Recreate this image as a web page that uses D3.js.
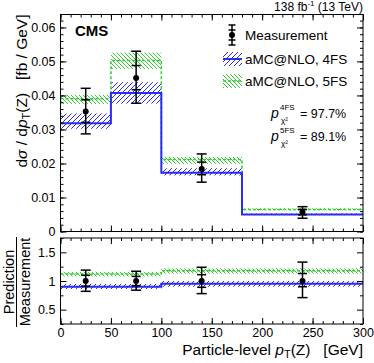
<!DOCTYPE html>
<html>
<head>
<meta charset="utf-8">
<script src="https://cdnjs.cloudflare.com/ajax/libs/d3/7.8.5/d3.min.js"></script>
<style>
  body { margin: 0; background: #fff; }
  svg { font-family: "Liberation Sans", Arial, sans-serif; }
  .tick text { font-size: 12.5px; fill: #000; }
</style>
</head>
<body>
<div id="chart"></div>
<script>
// bins of pT(Z) in GeV
var binEdges = [0, 50, 100, 180, 300];
var binCenters = [25, 75, 140, 240];

// measurement, fb/GeV
var meas = [0.0353, 0.0451, 0.0184, 0.0057];
var measStatUp = [0.0387, 0.0488, 0.0204, 0.0065];
var measStatDn = [0.0321, 0.0417, 0.0167, 0.0049];
var measTotUp = [0.0421, 0.0530, 0.0228, 0.0073];
var measTotDn = [0.0287, 0.0377, 0.0145, 0.0039];

// aMC@NLO 4FS
var pred4 = [0.0318, 0.0407, 0.0173, 0.0050];
var pred4Up = [0.0347, 0.0439, 0.0186, 0.0053];
var pred4Dn = [0.0302, 0.0376, 0.0165, 0.0048];

// aMC@NLO 5FS
var pred5 = [0.0390, 0.0503, 0.0212, 0.0065];
var pred5Up = [0.0402, 0.0526, 0.0219, 0.0068];
var pred5Dn = [0.0375, 0.0478, 0.0199, 0.0062];

// ratio panel (prediction / measurement)
var ratioMeas = [1, 1, 1, 1];
var ratioStatUp = [1.10, 1.08, 1.11, 1.13];
var ratioStatDn = [0.91, 0.92, 0.89, 0.90];
var ratioTotUp = [1.19, 1.17, 1.24, 1.33];
var ratioTotDn = [0.82, 0.84, 0.78, 0.71];
var ratio4 = [0.90, 0.90, 0.95, 0.95];
var ratio4Up = [0.95, 0.95, 1.00, 1.00];
var ratio4Dn = [0.86, 0.86, 0.90, 0.90];
var ratio5 = [1.12, 1.12, 1.18, 1.18];
var ratio5Up = [1.16, 1.16, 1.22, 1.22];
var ratio5Dn = [1.08, 1.08, 1.13, 1.13];

var yTicksTop = [0, 0.01, 0.02, 0.03, 0.04, 0.05, 0.06];
var yTicksRatio = [0.5, 1, 1.5];
var xTicks = [0, 50, 100, 150, 200, 250, 300];

var blue = "#2b2bf5", green = "#33cc33";

var W = 374, H = 363;
var svg = d3.select("#chart").append("svg")
    .attr("width", W).attr("height", H);

// hatch patterns
var defs = svg.append("defs");
defs.append("pattern").attr("id", "hatch4")
    .attr("patternUnits", "userSpaceOnUse")
    .attr("width", 5).attr("height", 5)
    .append("path")
    .attr("d", "M-1,1 L1,-1 M0,5 L5,0 M4,6 L6,4")
    .attr("stroke", blue).attr("stroke-width", 1);
defs.append("pattern").attr("id", "hatch5")
    .attr("patternUnits", "userSpaceOnUse")
    .attr("width", 4).attr("height", 4)
    .append("path")
    .attr("d", "M0,0 L4,4 M-1,3 L1,5 M3,-1 L5,1")
    .attr("stroke", green).attr("stroke-width", 1);

// scales
var x = d3.scaleLinear().domain([0, 300]).range([60.5, 363]);
var yTop = d3.scaleLinear().domain([0, 0.0638]).range([231.5, 14.5]);
var yRat = d3.scaleLinear().domain([0.25, 1.75]).range([324, 238]);

function stepPath(vals, ys) {
    var d = "";
    vals.forEach(function(v, i) {
        d += (i == 0 ? "M" : "L") + x(binEdges[i]) + "," + ys(v);
        d += "L" + x(binEdges[i + 1]) + "," + ys(v);
    });
    return d;
}

function drawPanel(g, ys, up5, dn5, c5, up4, dn4, c4, m, sUp, sDn, tUp, tDn) {
    var idx = d3.range(binCenters.length);
    // bands
    g.selectAll(".b5").data(idx).enter().append("rect")
        .attr("x", function(i) { return x(binEdges[i]); })
        .attr("width", function(i) { return x(binEdges[i + 1]) - x(binEdges[i]); })
        .attr("y", function(i) { return ys(up5[i]); })
        .attr("height", function(i) { return ys(dn5[i]) - ys(up5[i]); })
        .attr("fill", "url(#hatch5)");
    g.selectAll(".b4").data(idx).enter().append("rect")
        .attr("x", function(i) { return x(binEdges[i]); })
        .attr("width", function(i) { return x(binEdges[i + 1]) - x(binEdges[i]); })
        .attr("y", function(i) { return ys(up4[i]); })
        .attr("height", function(i) { return ys(dn4[i]) - ys(up4[i]); })
        .attr("fill", "url(#hatch4)");
    // lines
    g.append("path").attr("d", stepPath(c5, ys))
        .attr("fill", "none").attr("stroke", green)
        .attr("stroke-width", 1.5).attr("stroke-dasharray", "3,2");
    g.append("path").attr("d", stepPath(c4, ys))
        .attr("fill", "none").attr("stroke", blue).attr("stroke-width", 2);
    // measurement
    var pts = g.selectAll(".m").data(idx).enter().append("g");
    pts.append("line")
        .attr("x1", function(i) { return x(binCenters[i]); })
        .attr("x2", function(i) { return x(binCenters[i]); })
        .attr("y1", function(i) { return ys(tUp[i]); })
        .attr("y2", function(i) { return ys(tDn[i]); })
        .attr("stroke", "#000").attr("stroke-width", 1.5);
    [tUp, tDn, sUp, sDn].forEach(function(arr, k) {
        var hw = k < 2 ? 5 : 4.5;
        pts.append("line")
            .attr("x1", function(i) { return x(binCenters[i]) - hw; })
            .attr("x2", function(i) { return x(binCenters[i]) + hw; })
            .attr("y1", function(i) { return ys(arr[i]); })
            .attr("y2", function(i) { return ys(arr[i]); })
            .attr("stroke", "#000").attr("stroke-width", 1.5);
    });
    pts.append("circle")
        .attr("cx", function(i) { return x(binCenters[i]); })
        .attr("cy", function(i) { return ys(m[i]); })
        .attr("r", 3).attr("fill", "#000");
}

var topPanel = svg.append("g");
drawPanel(topPanel, yTop, pred5Up, pred5Dn, pred5, pred4Up, pred4Dn, pred4,
    meas, measStatUp, measStatDn, measTotUp, measTotDn);
var ratioPanel = svg.append("g");
drawPanel(ratioPanel, yRat, ratio5Up, ratio5Dn, ratio5, ratio4Up, ratio4Dn, ratio4,
    ratioMeas, ratioStatUp, ratioStatDn, ratioTotUp, ratioTotDn);

// axes with inward ticks (ROOT style)
function axes(ys, y0, y1, yMajor, yMinor, showX) {
    var xMinor = d3.range(0, 301, 10);
    var a;
    a = svg.append("g").attr("transform", "translate(0," + y1 + ")")
        .call(d3.axisBottom(x).tickValues(xTicks).tickSize(-6).tickPadding(4)
            .tickFormat(showX ? d3.format("d") : ""));
    a.select(".domain").remove();
    a = svg.append("g").attr("transform", "translate(0," + y1 + ")")
        .call(d3.axisBottom(x).tickValues(xMinor).tickSize(-3).tickFormat(""));
    a.select(".domain").remove();
    a = svg.append("g").attr("transform", "translate(0," + y0 + ")")
        .call(d3.axisTop(x).tickValues(xTicks).tickSize(-6).tickFormat(""));
    a.select(".domain").remove();
    a = svg.append("g").attr("transform", "translate(0," + y0 + ")")
        .call(d3.axisTop(x).tickValues(xMinor).tickSize(-3).tickFormat(""));
    a.select(".domain").remove();

    a = svg.append("g").attr("transform", "translate(" + x(0) + ",0)")
        .call(d3.axisLeft(ys).tickValues(yMajor).tickSize(-6).tickPadding(5)
            .tickFormat(function(d) { return d3.format("")(+d.toFixed(3)); }));
    a.select(".domain").remove();
    a = svg.append("g").attr("transform", "translate(" + x(0) + ",0)")
        .call(d3.axisLeft(ys).tickValues(yMinor).tickSize(-3).tickFormat(""));
    a.select(".domain").remove();
    a = svg.append("g").attr("transform", "translate(" + x(300) + ",0)")
        .call(d3.axisRight(ys).tickValues(yMajor).tickSize(-6).tickFormat(""));
    a.select(".domain").remove();
    a = svg.append("g").attr("transform", "translate(" + x(300) + ",0)")
        .call(d3.axisRight(ys).tickValues(yMinor).tickSize(-3).tickFormat(""));
    a.select(".domain").remove();

    svg.append("rect").attr("x", x(0)).attr("y", y0)
        .attr("width", x(300) - x(0)).attr("height", y1 - y0)
        .attr("fill", "none").attr("stroke", "#000").attr("stroke-width", 1);
}
axes(yTop, yTop.range()[1], yTop.range()[0], yTicksTop,
    d3.range(0, 0.0638, 0.002), false);
axes(yRat, yRat.range()[1], yRat.range()[0], yTicksRatio,
    [0.25, 0.75, 1.25, 1.75], true);
svg.selectAll(".tick line").attr("stroke", "#000");

// texts
svg.append("text").attr("x", 363).attr("y", 11).attr("text-anchor", "end")
    .style("font-size", "12px")
    .html('138 fb<tspan dy="-5" font-size="8">-1</tspan><tspan dy="5"> (13 TeV)</tspan>');
svg.append("text").attr("x", 75).attr("y", 36)
    .style("font-size", "15px").style("font-weight", "bold").text("CMS");

// legend
var lg = svg.append("g").style("font-size", "13.5px");
lg.append("line").attr("x1", 232).attr("x2", 232).attr("y1", 25).attr("y2", 45)
    .attr("stroke", "#000").attr("stroke-width", 1.5);
[25, 45, 30, 40].forEach(function(v) {
    lg.append("line").attr("x1", 228.5).attr("x2", 235.5).attr("y1", v).attr("y2", v)
        .attr("stroke", "#000").attr("stroke-width", 1.5);
});
lg.append("circle").attr("cx", 232).attr("cy", 35).attr("r", 3);
lg.append("text").attr("x", 245).attr("y", 40).text("Measurement");
lg.append("rect").attr("x", 223).attr("y", 52).attr("width", 19).attr("height", 14)
    .attr("fill", "url(#hatch4)");
lg.append("line").attr("x1", 223).attr("x2", 242).attr("y1", 59).attr("y2", 59)
    .attr("stroke", blue).attr("stroke-width", 2);
lg.append("text").attr("x", 245).attr("y", 64).text("aMC@NLO, 4FS");
lg.append("rect").attr("x", 223).attr("y", 74).attr("width", 19).attr("height", 14)
    .attr("fill", "url(#hatch5)");
lg.append("line").attr("x1", 223).attr("x2", 242).attr("y1", 81).attr("y2", 81)
    .attr("stroke", green).attr("stroke-width", 1.5).attr("stroke-dasharray", "3,2");
lg.append("text").attr("x", 245).attr("y", 86).text("aMC@NLO, 5FS");

function pText(yb, sup, val) {
    var g = svg.append("g");
    g.append("text").attr("x", 271).attr("y", yb).style("font-size", "14px")
        .style("font-style", "italic").text("p");
    g.append("text").attr("x", 280).attr("y", yb - 8).style("font-size", "8px").text(sup);
    g.append("text").attr("x", 281).attr("y", yb + 5).style("font-size", "8px").text("\u03c7\u00b2");
    g.append("text").attr("x", 300).attr("y", yb).style("font-size", "12.5px").text("= " + val);
}
pText(118, "4FS", "97.7%");
pText(141, "5FS", "89.1%");

// axis titles
svg.append("text").attr("x", 363).attr("y", 355).attr("text-anchor", "end")
    .style("font-size", "15.5px")
    .html('Particle-level <tspan font-style="italic">p</tspan><tspan font-size="11" dy="3">T</tspan><tspan dy="-3">(Z)\u00a0\u00a0\u00a0[GeV]</tspan>');
svg.append("text").attr("transform", "translate(27,14.5) rotate(-90)")
    .attr("text-anchor", "end").style("font-size", "15.5px")
    .html('d<tspan font-style="italic">\u03c3</tspan> / d<tspan font-style="italic">p</tspan><tspan font-size="11" dy="3">T</tspan><tspan dy="-3">(Z)\u00a0\u00a0\u00a0[fb / GeV]</tspan>');
svg.append("text").attr("transform", "translate(14,282) rotate(-90)")
    .attr("text-anchor", "middle").style("font-size", "14.5px").text("Prediction");
svg.append("line").attr("x1", 16.5).attr("x2", 16.5).attr("y1", 237).attr("y2", 327)
    .attr("stroke", "#000").attr("stroke-width", 1);
svg.append("text").attr("transform", "translate(29.5,282) rotate(-90)")
    .attr("text-anchor", "middle").style("font-size", "14.5px").text("Measurement");
</script>
</body>
</html>
